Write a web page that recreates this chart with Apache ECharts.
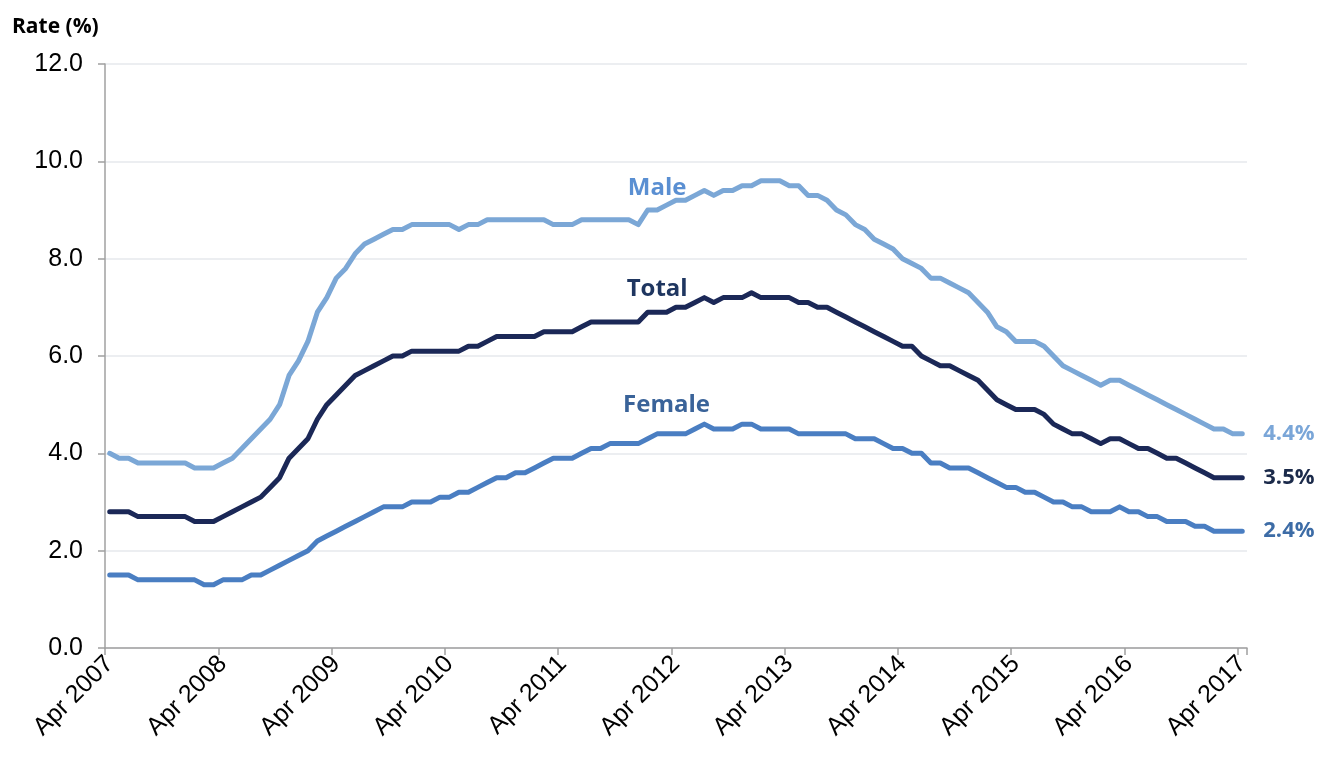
<!DOCTYPE html>
<html>
<head>
<meta charset="utf-8">
<script src="https://cdn.jsdelivr.net/npm/echarts@6/dist/echarts.min.js"></script>
<style>
html,body{margin:0;padding:0;background:#fff;}
#chart{width:1322px;height:758px;}
</style>
</head>
<body>
<div id="chart"></div>
<script>
// Monthly series, Apr 2007 .. Apr 2017 (121 months)
var monthNames = ['Jan','Feb','Mar','Apr','May','Jun','Jul','Aug','Sep','Oct','Nov','Dec'];
var startYear = 2007, startMonth = 3, monthCount = 121;
var categories = [];
for (var k = 0; k < monthCount; k++) {
  var m = (startMonth + k) % 12, y = startYear + Math.floor((startMonth + k) / 12);
  categories.push(monthNames[m] + ' ' + y);
}

var male = [
 4.0,3.9,3.9,3.8,3.8,3.8,3.8,3.8,3.8,3.7,3.7,3.7,
 3.8,3.9,4.1,4.3,4.5,4.7,5.0,5.6,5.9,6.3,6.9,7.2,
 7.6,7.8,8.1,8.3,8.4,8.5,8.6,8.6,8.7,8.7,8.7,8.7,
 8.7,8.6,8.7,8.7,8.8,8.8,8.8,8.8,8.8,8.8,8.8,8.7,
 8.7,8.7,8.8,8.8,8.8,8.8,8.8,8.8,8.7,9.0,9.0,9.1,
 9.2,9.2,9.3,9.4,9.3,9.4,9.4,9.5,9.5,9.6,9.6,9.6,
 9.5,9.5,9.3,9.3,9.2,9.0,8.9,8.7,8.6,8.4,8.3,8.2,
 8.0,7.9,7.8,7.6,7.6,7.5,7.4,7.3,7.1,6.9,6.6,6.5,
 6.3,6.3,6.3,6.2,6.0,5.8,5.7,5.6,5.5,5.4,5.5,5.5,
 5.4,5.3,5.2,5.1,5.0,4.9,4.8,4.7,4.6,4.5,4.5,4.4,
 4.4
];
var total = [
 2.8,2.8,2.8,2.7,2.7,2.7,2.7,2.7,2.7,2.6,2.6,2.6,
 2.7,2.8,2.9,3.0,3.1,3.3,3.5,3.9,4.1,4.3,4.7,5.0,
 5.2,5.4,5.6,5.7,5.8,5.9,6.0,6.0,6.1,6.1,6.1,6.1,
 6.1,6.1,6.2,6.2,6.3,6.4,6.4,6.4,6.4,6.4,6.5,6.5,
 6.5,6.5,6.6,6.7,6.7,6.7,6.7,6.7,6.7,6.9,6.9,6.9,
 7.0,7.0,7.1,7.2,7.1,7.2,7.2,7.2,7.3,7.2,7.2,7.2,
 7.2,7.1,7.1,7.0,7.0,6.9,6.8,6.7,6.6,6.5,6.4,6.3,
 6.2,6.2,6.0,5.9,5.8,5.8,5.7,5.6,5.5,5.3,5.1,5.0,
 4.9,4.9,4.9,4.8,4.6,4.5,4.4,4.4,4.3,4.2,4.3,4.3,
 4.2,4.1,4.1,4.0,3.9,3.9,3.8,3.7,3.6,3.5,3.5,3.5,
 3.5
];
var female = [
 1.5,1.5,1.5,1.4,1.4,1.4,1.4,1.4,1.4,1.4,1.3,1.3,
 1.4,1.4,1.4,1.5,1.5,1.6,1.7,1.8,1.9,2.0,2.2,2.3,
 2.4,2.5,2.6,2.7,2.8,2.9,2.9,2.9,3.0,3.0,3.0,3.1,
 3.1,3.2,3.2,3.3,3.4,3.5,3.5,3.6,3.6,3.7,3.8,3.9,
 3.9,3.9,4.0,4.1,4.1,4.2,4.2,4.2,4.2,4.3,4.4,4.4,
 4.4,4.4,4.5,4.6,4.5,4.5,4.5,4.6,4.6,4.5,4.5,4.5,
 4.5,4.4,4.4,4.4,4.4,4.4,4.4,4.3,4.3,4.3,4.2,4.1,
 4.1,4.0,4.0,3.8,3.8,3.7,3.7,3.7,3.6,3.5,3.4,3.3,
 3.3,3.2,3.2,3.1,3.0,3.0,2.9,2.9,2.8,2.8,2.8,2.9,
 2.8,2.8,2.7,2.7,2.6,2.6,2.6,2.5,2.5,2.4,2.4,2.4,
 2.4
];

var seriesNames = ['Male','Total','Female'];
var lineColors = ['#7BA7D6','#1B2857','#4A7EC2'];
var nameColors = ['#5A8FD2','#1F3660','#3A6399'];
var endColors = ['#7AA6D8','#1B2A4A','#3D6CA6'];
// series-name label anchors (category, value)
var nameLabelAt = [['Feb 2012', 9.44], ['Feb 2012', 7.38], ['Mar 2012', 5.0]];

var seriesData = [male, total, female];
var series = seriesData.map(function (d, i) {
  return {
    name: seriesNames[i],
    type: 'line',
    data: d,
    symbol: 'none',
    lineStyle: { width: 5, color: lineColors[i], cap: 'round', join: 'round' },
    z: i === 1 ? 4 : 3,
    endLabel: {
      show: true,
      distance: 21,
      formatter: function (p) { return p.value.toFixed(1) + '%'; },
      fontFamily: 'Open Sans',
      fontWeight: 'bold',
      fontSize: 22,
      color: endColors[i]
    },
    markPoint: {
      symbol: 'circle',
      symbolSize: 0,
      silent: true,
      data: [{
        coord: nameLabelAt[i],
        label: {
          show: true,
          position: 'inside',
          formatter: seriesNames[i],
          fontFamily: 'Open Sans',
          fontWeight: 'bold',
          fontSize: 24,
          color: nameColors[i]
        }
      }]
    }
  };
});

var chart = echarts.init(document.getElementById('chart'), null, { renderer: 'canvas' });
chart.setOption({
  animation: false,
  backgroundColor: '#ffffff',
  title: {
    text: 'Rate (%)',
    left: 7,
    top: 12,
    textStyle: { fontFamily: 'Open Sans', fontWeight: 'bold', fontSize: 21, color: '#000' }
  },
  grid: { left: 105, right: 75, top: 64, bottom: 110, containLabel: false },
  xAxis: {
    type: 'category',
    data: categories,
    boundaryGap: true,
    axisLine: { show: true, lineStyle: { color: '#A0A0A0', width: 1.5 } },
    axisTick: { show: true, interval: 11, length: 7, lineStyle: { color: '#A0A0A0', width: 1.5 } },
    axisLabel: {
      interval: 11,
      rotate: 45,
      margin: 12,
      fontFamily: 'Liberation Sans',
      fontSize: 25,
      color: '#000'
    },
    splitLine: { show: false }
  },
  yAxis: {
    type: 'value',
    min: 0,
    max: 12,
    interval: 2,
    axisLine: { show: true, lineStyle: { color: '#A0A0A0', width: 1.5 } },
    axisTick: { show: true, length: 7, lineStyle: { color: '#A0A0A0', width: 1.5 } },
    axisLabel: {
      margin: 22,
      fontFamily: 'Liberation Sans',
      fontSize: 25,
      color: '#000',
      formatter: function (v) { return v.toFixed(1); }
    },
    splitLine: { show: true, lineStyle: { color: '#E6E8EC', width: 1.5 } }
  },
  series: series
});
</script>
</body>
</html>
